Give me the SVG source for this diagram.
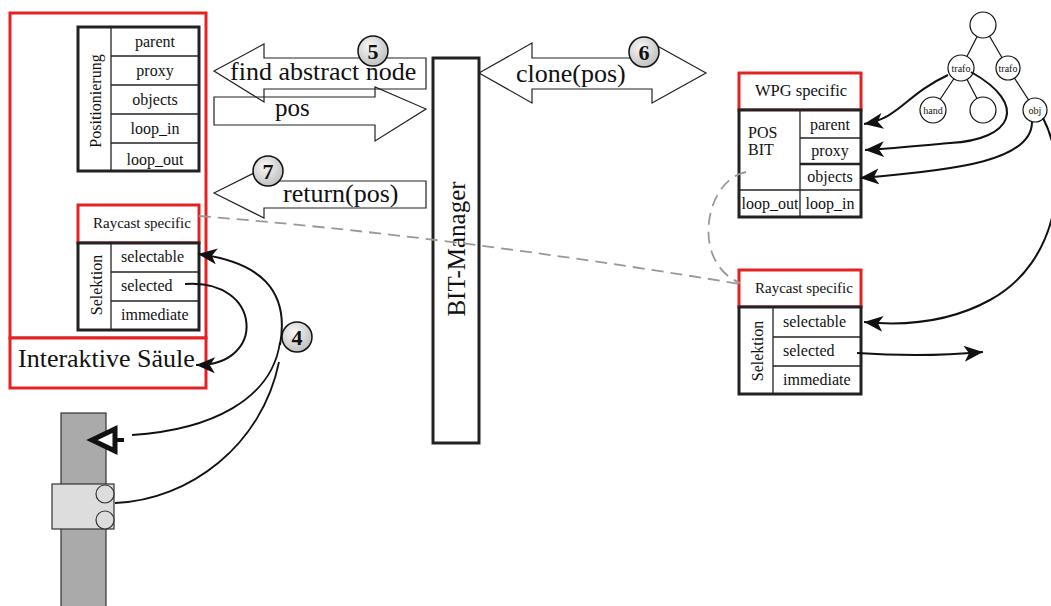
<svg xmlns="http://www.w3.org/2000/svg" width="1051" height="606" viewBox="0 0 1051 606" font-family="'Liberation Serif', 'Times New Roman', serif">
  <defs>
    <radialGradient id="ballFill" cx="40%" cy="35%" r="70%">
      <stop offset="0" stop-color="#f8f8f8"/>
      <stop offset="1" stop-color="#bdbdbd"/>
    </radialGradient>
    <marker id="head" markerUnits="userSpaceOnUse" markerWidth="22" markerHeight="18" refX="19" refY="8" orient="auto">
      <path d="M0,0 L19,8 L0,16 L5,8 z" fill="#111"/>
    </marker>
    <style>
      text { font-family: 'Liberation Serif', 'Times New Roman', serif; fill: #111; }
      .red { fill: #fff; stroke: #e32322; stroke-width: 3; }
      .tbl { fill: #fff; stroke: #222; stroke-width: 3; }
      .sep { stroke: #222; stroke-width: 1.3; fill: none; }
      .cell { font-size: 16px; }
      .mid { text-anchor: middle; }
      .big { font-size: 26px; }
      .fat { fill: none; stroke: #222; stroke-width: 1.2; }
      .ball { fill: url(#ballFill); stroke: #111; stroke-width: 1.5; }
      .num { font-size: 22px; font-weight: bold; text-anchor: middle; }
      .link { fill: none; stroke: #111; stroke-width: 2; marker-end: url(#head); }
      .plain { fill: none; stroke: #111; stroke-width: 1.8; }
      .dash { fill: none; stroke: #999; stroke-width: 1.8; stroke-dasharray: 12 7; }
      .tree { fill: #fff; stroke: #111; stroke-width: 1.2; }
      .edge { stroke: #111; stroke-width: 1.2; }
      .small { font-size: 10px; text-anchor: middle; }
    </style>
  </defs>

  <!-- Interactive column container -->
  <g id="column-node">
    <rect class="red" x="10" y="13" width="196" height="325"/>
    <rect class="red" x="10" y="338" width="196" height="50"/>
    <text class="big" x="18" y="367">Interaktive Säule</text>
  </g>

  <!-- Positioning table -->
  <g id="positioning-table">
    <rect class="tbl" x="78" y="27" width="121" height="144"/>
    <line class="sep" x1="111" y1="27" x2="111" y2="171"/>
    <line class="sep" x1="111" y1="56" x2="199" y2="56"/>
    <line class="sep" x1="111" y1="85" x2="199" y2="85"/>
    <line class="sep" x1="111" y1="114" x2="199" y2="114"/>
    <line class="sep" x1="111" y1="143" x2="199" y2="143"/>
    <text class="cell" transform="translate(101,101) rotate(-90)" text-anchor="middle">Positionierung</text>
    <text class="cell mid" x="155" y="47">parent</text>
    <text class="cell mid" x="155" y="76">proxy</text>
    <text class="cell mid" x="155" y="105">objects</text>
    <text class="cell mid" x="155" y="134">loop_in</text>
    <text class="cell mid" x="155" y="165">loop_out</text>
  </g>

  <!-- Left raycast / selection table -->
  <g id="left-raycast">
    <rect class="red" x="78" y="205" width="121" height="38"/>
    <text x="93" y="228" font-size="15">Raycast specific</text>
  </g>
  <g id="left-selection">
    <rect class="tbl" x="78" y="243" width="121" height="87"/>
    <line class="sep" x1="111" y1="243" x2="111" y2="330"/>
    <line class="sep" x1="111" y1="272" x2="199" y2="272"/>
    <line class="sep" x1="111" y1="301" x2="199" y2="301"/>
    <text class="cell" transform="translate(102,285) rotate(-90)" text-anchor="middle" font-size="17">Selektion</text>
    <text class="cell" x="121" y="262">selectable</text>
    <text class="cell" x="121" y="291">selected</text>
    <text class="cell" x="121" y="320">immediate</text>
  </g>

  <!-- Physical column with clamp -->
  <g id="pillar">
    <rect x="61" y="413" width="45" height="200" fill="#aaa" stroke="#333" stroke-width="1.2"/>
    <rect x="52" y="484" width="62" height="45" fill="#ddd" stroke="#333" stroke-width="1.2"/>
    <circle cx="105" cy="494" r="9" fill="#ddd" stroke="#333" stroke-width="1.2"/>
    <circle cx="105" cy="520" r="9" fill="#ddd" stroke="#333" stroke-width="1.2"/>
    <polygon points="92,440 115,429 115,451" fill="#fff" stroke="#111" stroke-width="5" stroke-linejoin="miter"/>
    <line x1="115" y1="440" x2="124" y2="440" stroke="#111" stroke-width="4"/>
  </g>

  <!-- BIT manager -->
  <g id="bit-manager">
    <rect x="433" y="58" width="46" height="385" fill="#fff" stroke="#222" stroke-width="3"/>
    <text transform="translate(465,249) rotate(-90)" text-anchor="middle" font-size="25">BIT-Manager</text>
  </g>

  <!-- Right WPG table -->
  <g id="wpg-table">
    <rect class="red" x="739" y="73" width="122" height="37"/>
    <text x="755" y="96" font-size="16.5">WPG specific</text>
    <rect class="tbl" x="739" y="110" width="122" height="107"/>
    <line class="sep" x1="800" y1="110" x2="800" y2="217"/>
    <line class="sep" x1="800" y1="138" x2="861" y2="138"/>
    <line x1="800" y1="164" x2="861" y2="164" stroke="#222" stroke-width="2.5"/>
    <line class="sep" x1="739" y1="190" x2="861" y2="190"/>
    <text class="cell" x="748" y="138">POS</text>
    <text class="cell" x="748" y="155">BIT</text>
    <text class="cell mid" x="830" y="130">parent</text>
    <text class="cell mid" x="830" y="156">proxy</text>
    <text class="cell mid" x="830" y="182">objects</text>
    <text class="cell mid" x="770" y="209">loop_out</text>
    <text class="cell mid" x="830" y="209">loop_in</text>
  </g>

  <!-- Right raycast / selection table -->
  <g id="right-raycast">
    <rect class="red" x="739" y="270" width="122" height="37"/>
    <text x="755" y="293" font-size="15">Raycast specific</text>
  </g>
  <g id="right-selection">
    <rect class="tbl" x="739" y="307" width="122" height="87"/>
    <line class="sep" x1="773" y1="307" x2="773" y2="394"/>
    <line class="sep" x1="773" y1="337" x2="861" y2="337"/>
    <line class="sep" x1="773" y1="366" x2="861" y2="366"/>
    <text class="cell" transform="translate(763,351) rotate(-90)" text-anchor="middle" font-size="17">Selektion</text>
    <text class="cell" x="783" y="327">selectable</text>
    <text class="cell" x="783" y="356">selected</text>
    <text class="cell" x="783" y="385">immediate</text>
  </g>

  <!-- Scene graph -->
  <g id="scene-tree">
    <line class="edge" x1="983" y1="25" x2="961" y2="68"/>
    <line class="edge" x1="983" y1="25" x2="1008" y2="68"/>
    <line class="edge" x1="961" y1="68" x2="933" y2="110"/>
    <line class="edge" x1="961" y1="68" x2="983" y2="110"/>
    <line class="edge" x1="1008" y1="68" x2="1035" y2="110"/>
    <circle class="tree" cx="983" cy="25" r="13"/>
    <circle class="tree" cx="961" cy="68" r="13"/>
    <circle class="tree" cx="1008" cy="68" r="12"/>
    <circle class="tree" cx="933" cy="110" r="13"/>
    <circle class="tree" cx="983" cy="110" r="13"/>
    <circle class="tree" cx="1035" cy="110" r="12"/>
    <text class="small" x="961" y="72">trafo</text>
    <text class="small" x="1008" y="72">trafo</text>
    <text class="small" x="933" y="114">hand</text>
    <text class="small" x="1035" y="114">obj</text>
  </g>

  <!-- Message arrows -->
  <g id="messages">
    <polygon class="fat" points="214,71 264,44 264,58 426,58 426,89 264,89 264,102"/>
    <polygon class="fat" points="214,97 375,97 375,87 426,109 375,141 375,125 214,125"/>
    <text class="big" x="230" y="80">find abstract node</text>
    <text x="275" y="116" font-size="25">pos</text>
    <polygon class="fat" points="214,193 264,168 264,181 426,181 426,208 264,208 264,218"/>
    <text class="big" x="283" y="202">return(pos)</text>
    <polygon class="fat" points="479,73 532,43 532,58 652,58 652,43 706,73 652,103 652,89 532,89 532,103"/>
    <text class="big" x="516" y="82">clone(pos)</text>
  </g>

  <!-- Connectors -->
  <g id="connectors">
    <path class="dash" d="M199,216 Q450,236 740,284"/>
    <path class="dash" d="M746,172 C705,180 690,262 740,283"/>
    <path class="link" d="M280,345 C290,290 260,262 198,254"/>
    <path class="link" d="M185,284 C262,278 268,366 196,365"/>
    <path class="plain" d="M280,342 C272,400 210,430 132,435"/>
    <path class="plain" d="M279,362 C262,445 190,500 115,503"/>
    <path class="link" d="M948,75 C905,95 900,118 864,124"/>
    <path class="link" d="M971,72 C1030,105 1012,140 950,143 C915,146 890,149 865,150"/>
    <path class="link" d="M1032,122 C1032,160 960,170 860,178"/>
    <path class="link" d="M1043,118 C1070,170 1060,262 990,300 C950,322 905,326 864,322"/>
    <path class="link" d="M857,353 C900,356 940,356 983,352"/>
  </g>

  <!-- Step markers -->
  <g id="step-4">
    <circle class="ball" cx="297" cy="337" r="15"/>
    <text class="num" x="297" y="345">4</text>
  </g>
  <g id="step-5">
    <circle class="ball" cx="373" cy="51" r="15"/>
    <text class="num" x="373" y="59">5</text>
  </g>
  <g id="step-6">
    <circle class="ball" cx="644" cy="52" r="15"/>
    <text class="num" x="644" y="60">6</text>
  </g>
  <g id="step-7">
    <circle class="ball" cx="268" cy="171" r="15"/>
    <text class="num" x="268" y="179">7</text>
  </g>
</svg>
